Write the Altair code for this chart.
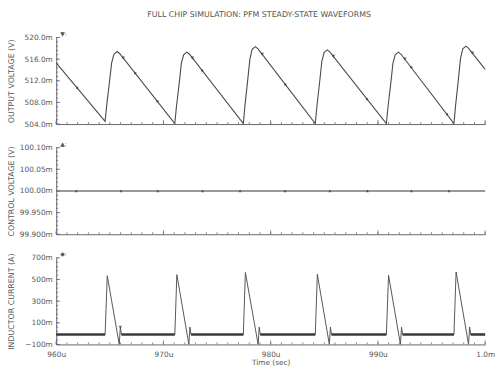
import altair as alt
import pandas as pd

# ---------------- data ----------------
# Output voltage trace (time in us, value in mV)
vout_t = [960.00,
          964.56, 964.71, 964.95, 965.17, 965.38, 965.68, 965.93,
          971.06, 971.21, 971.45, 971.67, 971.88, 972.18, 972.43,
          977.45, 977.60, 977.84, 978.06, 978.27, 978.57, 978.82,
          984.16, 984.31, 984.55, 984.77, 984.98, 985.28, 985.53,
          990.79, 990.94, 991.18, 991.40, 991.61, 991.91, 992.16,
          997.09, 997.24, 997.48, 997.70, 997.91, 998.21, 998.46,
          1000.00]
vout_v = [515.3,
          504.5, 507.5, 511.5, 515.3, 516.9, 517.4, 517.0,
          504.1, 507.2, 511.2, 515.2, 516.8, 517.3, 516.9,
          504.1, 507.4, 511.8, 516.0, 517.8, 518.3, 517.9,
          504.1, 507.3, 511.5, 515.6, 517.2, 517.7, 517.3,
          504.1, 507.2, 511.2, 515.2, 516.8, 517.3, 516.9,
          504.1, 507.4, 511.8, 516.1, 517.9, 518.4, 518.0,
          514.1]
# marker symbols on the output-voltage trace
vout_tri_t = [966.25, 972.70, 979.21, 985.85, 992.51, 998.81]
vout_tri_v = [516.2, 516.2, 516.9, 516.5, 516.0, 517.1]
vout_dot_t = [961.95, 967.37, 969.44, 973.61, 981.37, 988.98, 993.10, 996.44]
vout_dot_v = [510.7, 513.4, 508.2, 513.9, 511.3, 508.6, 514.5, 505.8]

# Control voltage (mV): flat line
vc_t = [960.0, 1000.0]
vc_v = [100.0, 100.0]
vc_mark_t = [961.87, 966.04, 969.47, 973.65, 977.15, 981.35, 985.52, 989.02, 993.13, 996.63]

# Inductor current (mA)
il_t = [960.00,
        964.56, 964.76, 965.88, 965.98, 966.08,
        971.06, 971.25, 972.37, 972.47, 972.57,
        977.45, 977.64, 978.83, 978.93, 979.03,
        984.16, 984.35, 985.47, 985.57, 985.67,
        990.79, 990.99, 992.10, 992.20, 992.30,
        997.09, 997.29, 998.45, 998.55, 998.65,
        1000.00]
il_v = [-8,
        -8, 535, -100, 60, -8,
        -8, 545, -100, 60, -8,
        -8, 565, -100, 60, -8,
        -8, 548, -100, 60, -8,
        -8, 540, -100, 60, -8,
        -8, 570, -100, 60, -8,
        -8]
# noisy baseline bands (start, end)
band_start = [960.00, 966.08, 972.57, 979.03, 985.67, 992.30, 998.65]
band_end = [964.56, 971.06, 977.45, 984.16, 990.79, 997.09, 1000.00]
band_v = -8
il_mark_t = [965.98]
il_mark_v = [60]

# axis tick values
x_major = [960, 970, 980, 990, 1000]
x_minor = list(range(960, 1001))
vout_major = [504, 508, 512, 516, 520]
vout_minor = [round(504 + 0.8 * k, 2) for k in range(21)]
vc_major = [99.90, 99.95, 100.00, 100.05, 100.10]
vc_minor = [round(99.90 + 0.01 * k, 3) for k in range(21)]
il_major = [-100, 100, 300, 500, 700]
il_minor = [-100 + 40 * k for k in range(21)]

TITLE = "FULL CHIP SIMULATION: PFM STEADY-STATE WAVEFORMS"

# ---------------- styling ----------------
W, H = 436, 88
FONT = "DejaVu Sans"
LINE = "#4a4a4a"
TXT = "#555555"
AX = "#666666"

xscale = alt.Scale(domain=[960, 1000], nice=False, zero=False)

X_PLAIN = alt.Axis(labels=False, ticks=False, title=None, domainColor=AX, grid=False)
X_BOTTOM = alt.Axis(values=x_major,
                    labelExpr="datum.value == 1000 ? '1.0m' : datum.value + 'u'",
                    ticks=False, labelPadding=6, domainColor=AX, labelColor=TXT,
                    labelFontSize=7.5, labelFont=FONT, labelFlush=False,
                    title="Time (sec)", titleFont=FONT, titleFontSize=7.5,
                    titleFontWeight="normal", titleColor=TXT, titlePadding=1, grid=False)


def y_axis(values, expr, title):
    return alt.Axis(values=values, labelExpr=expr, ticks=False, labelPadding=4,
                    domainColor=AX, labelColor=TXT, labelFontSize=7.5, labelFont=FONT,
                    title=title, titleFont=FONT, titleFontSize=8, titleFontWeight="normal",
                    titleColor=TXT, titlePadding=3, minExtent=38, maxExtent=38, grid=False)


def panel(layers_spec, yscale, yaxis, xaxis, y_minor, y_major, sym):
    X = lambda: alt.X("t:Q", scale=xscale, axis=xaxis)
    Y = lambda: alt.Y("v:Q", scale=yscale, axis=yaxis)
    charts = []
    for df, build, extra in layers_spec:
        charts.append(build(alt.Chart(df)).encode(x=X(), y=Y(), **extra))
    # inward ticks
    charts.append(alt.Chart(pd.DataFrame({"t": x_minor})).mark_rule(color=AX, strokeWidth=0.8)
                  .encode(x=X(), y=alt.value(H), y2=alt.value(H - 2)))
    charts.append(alt.Chart(pd.DataFrame({"t": x_major})).mark_rule(color=AX, strokeWidth=0.8)
                  .encode(x=X(), y=alt.value(H), y2=alt.value(H - 4)))
    charts.append(alt.Chart(pd.DataFrame({"v": y_minor})).mark_rule(color=AX, strokeWidth=0.8)
                  .encode(y=Y(), x=alt.value(0), x2=alt.value(2)))
    charts.append(alt.Chart(pd.DataFrame({"v": y_major})).mark_rule(color=AX, strokeWidth=0.8)
                  .encode(y=Y(), x=alt.value(0), x2=alt.value(4)))
    charts.append(alt.Chart(pd.DataFrame({"s": [sym]})).mark_text(
        align="left", baseline="middle", fontSize=6, color=TXT, font=FONT).encode(
        x=alt.value(4), y=alt.value(-4), text="s:N"))
    return alt.layer(*charts).properties(width=W, height=H)


# ---------------- top panel ----------------
ys_top = alt.Scale(domain=[504, 520], nice=False, zero=False)
ya_top = y_axis(vout_major, "format(datum.value, '.1f') + 'm'", "OUTPUT VOLTAGE (V)")
top = panel([
    (pd.DataFrame({"t": vout_t, "v": vout_v}),
     lambda c: c.mark_line(color=LINE, strokeWidth=1.1), {}),
    (pd.DataFrame({"t": vout_tri_t, "v": vout_tri_v}),
     lambda c: c.mark_point(shape="triangle-down", filled=True, size=14, color="#333"), {}),
    (pd.DataFrame({"t": vout_dot_t, "v": vout_dot_v}),
     lambda c: c.mark_point(shape="square", filled=True, size=5, color="#333"), {}),
], ys_top, ya_top, X_PLAIN, vout_minor, vout_major, "▼:")

# ---------------- middle panel ----------------
ys_mid = alt.Scale(domain=[99.9, 100.1], nice=False, zero=False)
ya_mid = y_axis(vc_major,
                "datum.value >= 100 ? format(datum.value, '.2f') + 'm' : format(datum.value, '.3f') + 'm'",
                "CONTROL VOLTAGE (V)")
mid = panel([
    (pd.DataFrame({"t": vc_t, "v": vc_v}),
     lambda c: c.mark_line(color="#777777", strokeWidth=1.6), {}),
    (pd.DataFrame({"t": vc_mark_t, "v": [100.0] * len(vc_mark_t)}),
     lambda c: c.mark_point(shape="triangle-up", filled=True, size=10, color="#333"), {}),
], ys_mid, ya_mid, X_PLAIN, vc_minor, vc_major, "▲:")

# ---------------- bottom panel ----------------
ys_bot = alt.Scale(domain=[-100, 700], nice=False, zero=False)
ya_bot = y_axis(il_major, "format(datum.value, 'd') + 'm'", "INDUCTOR CURRENT (A)")
band_rows = []
for i, (s, e) in enumerate(zip(band_start, band_end)):
    band_rows.append({"seg": i, "t": s, "v": band_v})
    band_rows.append({"seg": i, "t": e, "v": band_v})
bot = panel([
    (pd.DataFrame({"t": il_t, "v": il_v}),
     lambda c: c.mark_line(color="#555555", strokeWidth=1.0, clip=True), {}),
    (pd.DataFrame(band_rows),
     lambda c: c.mark_line(color="#3a3a3a", strokeWidth=2.6), {"detail": "seg:N"}),
    (pd.DataFrame({"t": il_mark_t, "v": il_mark_v}),
     lambda c: c.mark_point(shape="triangle-down", filled=True, size=12, color="#333"), {}),
], ys_bot, ya_bot, X_BOTTOM, il_minor, il_major, "◆:")

chart = alt.vconcat(top, mid, bot, spacing=13).properties(
    title=alt.TitleParams(TITLE, font=FONT, fontSize=8, fontWeight="normal",
                          color=TXT, anchor="middle", offset=12, dx=8),
    padding={"left": 0, "top": 0, "right": 0, "bottom": 0},
    background="white",
).configure_view(stroke=None)

chart.save("out.html", embed_options={"renderer": "svg", "actions": False})
